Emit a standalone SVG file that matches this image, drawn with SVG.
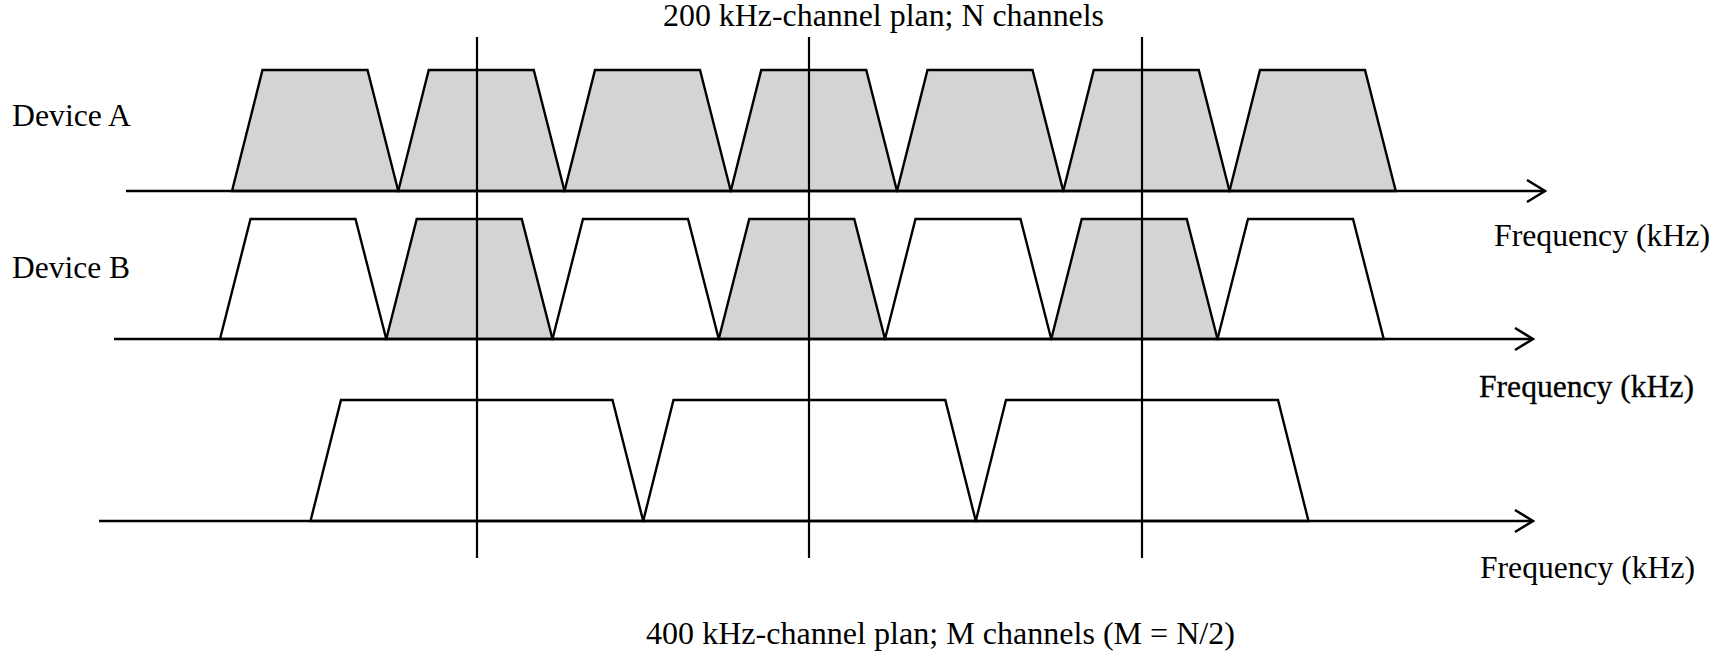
<svg xmlns="http://www.w3.org/2000/svg" width="1725" height="660" viewBox="0 0 1725 660">
<style>
.bg{fill:#fff}
.on{fill:#d4d4d4;stroke:#000;stroke-width:2.4;stroke-linejoin:miter}
.off{fill:#fff;stroke:#000;stroke-width:2.4;stroke-linejoin:miter}
.ax{fill:none;stroke:#000;stroke-width:2.5}
.vl{fill:none;stroke:#000;stroke-width:2.2}
.t{font-family:"Liberation Serif","Times New Roman",serif;font-size:31px;fill:#000}
</style>
<defs>
<marker id="arr" markerUnits="userSpaceOnUse" markerWidth="24" markerHeight="26" refX="20" refY="12" orient="auto">
<path d="M2 1 L20 12 L2 23" fill="none" stroke="#000" stroke-width="2.5"/>
</marker>
</defs>
<rect class="bg" x="0" y="0" width="1725" height="660"/>
<g id="deviceA">
<polygon id="A1" class="on" points="232,191 262.5,70 367.5,70 398.25,191"/>
<polygon id="A2" class="on" points="398.25,191 428.75,70 533.75,70 564.5,191"/>
<polygon id="A3" class="on" points="564.5,191 595,70 700,70 730.75,191"/>
<polygon id="A4" class="on" points="730.75,191 761.25,70 866.25,70 897,191"/>
<polygon id="A5" class="on" points="897,191 927.5,70 1032.5,70 1063.25,191"/>
<polygon id="A6" class="on" points="1063.25,191 1093.75,70 1198.75,70 1229.5,191"/>
<polygon id="A7" class="on" points="1229.5,191 1260,70 1365,70 1395.75,191"/>
</g>
<g id="deviceB">
<polygon id="B1" class="off" points="220,339 250.5,219 355.5,219 386.25,339"/>
<polygon id="B2" class="on" points="386.25,339 416.75,219 521.75,219 552.5,339"/>
<polygon id="B3" class="off" points="552.5,339 583,219 688,219 718.75,339"/>
<polygon id="B4" class="on" points="718.75,339 749.25,219 854.25,219 885,339"/>
<polygon id="B5" class="off" points="885,339 915.5,219 1020.5,219 1051.25,339"/>
<polygon id="B6" class="on" points="1051.25,339 1081.75,219 1186.75,219 1217.5,339"/>
<polygon id="B7" class="off" points="1217.5,339 1248,219 1353,219 1383.75,339"/>
</g>
<g id="plan400">
<polygon id="C1" class="off" points="310.5,521 341,400 612.5,400 643.2,521"/>
<polygon id="C2" class="off" points="643.2,521 673.5,400 945.3,400 975.8,521"/>
<polygon id="C3" class="off" points="975.8,521 1006,400 1278,400 1308.5,521"/>
</g>
<g id="connectors">
<line class="vl" x1="477" y1="37" x2="477" y2="558"/>
<line class="vl" x1="809" y1="37" x2="809" y2="558"/>
<line class="vl" x1="1142" y1="37" x2="1142" y2="558"/>
<path class="ax" d="M126 191 H1545" marker-end="url(#arr)"/>
<path class="ax" d="M114 339 H1533" marker-end="url(#arr)"/>
<path class="ax" d="M99 521 H1533" marker-end="url(#arr)"/>
</g>
<g id="labels">
<text class="t" x="663" y="26" textLength="441" lengthAdjust="spacingAndGlyphs">200 kHz-channel plan; N channels</text>
<text class="t" x="12" y="126" textLength="119" lengthAdjust="spacingAndGlyphs">Device A</text>
<text class="t" x="12" y="278" textLength="118" lengthAdjust="spacingAndGlyphs">Device B</text>
<text class="t" x="1494" y="246" textLength="216" lengthAdjust="spacingAndGlyphs">Frequency (kHz)</text>
<text class="t" x="1479" y="397" textLength="215" lengthAdjust="spacingAndGlyphs" stroke="#000" stroke-width="0.3">Frequency (kHz)</text>
<text class="t" x="1480" y="578" textLength="215" lengthAdjust="spacingAndGlyphs">Frequency (kHz)</text>
<text class="t" x="646" y="644" textLength="589" lengthAdjust="spacingAndGlyphs">400 kHz-channel plan; M channels (M = N/2)</text>
</g>
</svg>
